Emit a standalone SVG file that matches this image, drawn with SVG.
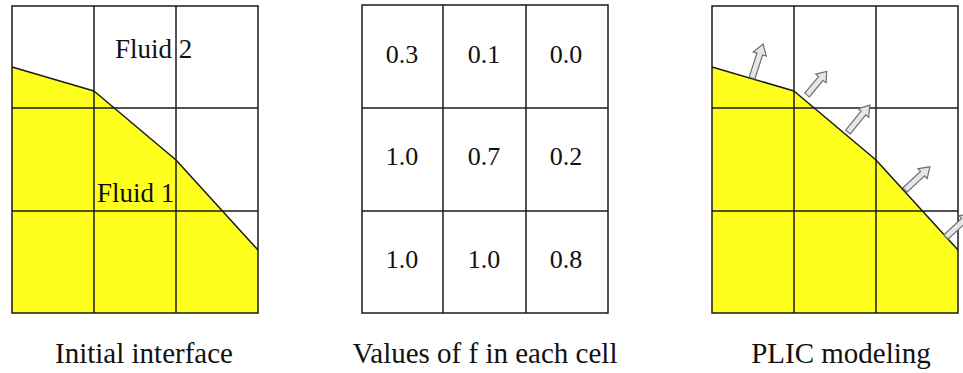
<svg xmlns="http://www.w3.org/2000/svg" width="963" height="373" viewBox="0 0 963 373">
<defs>
<style>
.grid{fill:none;stroke:#1a1a1a;stroke-width:1.5}
.fill{fill:#ffff1e;stroke:none}
.iface{fill:none;stroke:#1a1a1a;stroke-width:1.5;stroke-linejoin:round}
.t{fill:#111}
.num{font-size:26px;text-anchor:middle}
.fl{font-size:27px}
.cap{font-size:29px;text-anchor:middle}
.arr{fill:#e6e6e6;stroke:#6e6e6e;stroke-width:1.2;stroke-linejoin:miter}
</style>
<path id="a" d="M0,-3 L24,-3 L24,-6.8 L34,0 L24,6.8 L24,3 L0,3 Z"/>
</defs>
<rect width="963" height="373" fill="#fff"/>

<g id="panel-initial">
<polygon class="fill" points="12,67 94,91 176,160 258,250 258,313 12,313"/>
<polyline class="iface" points="12,67 94,91 176,160 258,250"/>
<rect class="grid" x="12" y="6" width="246" height="307"/>
<line class="grid" x1="94" y1="6" x2="94" y2="313"/>
<line class="grid" x1="176" y1="6" x2="176" y2="313"/>
<line class="grid" x1="12" y1="108" x2="258" y2="108"/>
<line class="grid" x1="12" y1="211" x2="258" y2="211"/>
<text class="t fl" font-family="Liberation Serif, DejaVu Serif, serif" x="115" y="58">Fluid 2</text>
<text class="t fl" font-family="Liberation Serif, DejaVu Serif, serif" x="97" y="202">Fluid 1</text>
</g>

<g id="panel-values" font-family="Liberation Serif, DejaVu Serif, serif">
<rect class="grid" x="362" y="5" width="246" height="308"/>
<line class="grid" x1="443" y1="5" x2="443" y2="313"/>
<line class="grid" x1="526" y1="5" x2="526" y2="313"/>
<line class="grid" x1="362" y1="108" x2="608" y2="108"/>
<line class="grid" x1="362" y1="211" x2="608" y2="211"/>
<text class="t num" x="402" y="63">0.3</text>
<text class="t num" x="484" y="63">0.1</text>
<text class="t num" x="566" y="63">0.0</text>
<text class="t num" x="402" y="165">1.0</text>
<text class="t num" x="484" y="165">0.7</text>
<text class="t num" x="566" y="165">0.2</text>
<text class="t num" x="402" y="268">1.0</text>
<text class="t num" x="484" y="268">1.0</text>
<text class="t num" x="566" y="268">0.8</text>
</g>

<g id="panel-plic">
<polygon class="fill" points="712,67 794,91 876,160 958,250 958,313 712,313"/>
<polyline class="iface" points="712,67 794,91 876,160 958,250"/>
<rect class="grid" x="712" y="6" width="246" height="307"/>
<line class="grid" x1="794" y1="6" x2="794" y2="313"/>
<line class="grid" x1="876" y1="6" x2="876" y2="313"/>
<line class="grid" x1="712" y1="108" x2="958" y2="108"/>
<line class="grid" x1="712" y1="211" x2="958" y2="211"/>
</g>

<g id="normals">
<use href="#a" class="arr" transform="translate(752,78) rotate(-72) scale(1.05,1)"/>
<use href="#a" class="arr" transform="translate(807,95) rotate(-50) scale(0.9,1)"/>
<use href="#a" class="arr" transform="translate(848,132) rotate(-51) scale(1.02,1)"/>
<use href="#a" class="arr" transform="translate(905,190) rotate(-43) scale(1,1)"/>
<use href="#a" class="arr" transform="translate(946,237) rotate(-43) scale(1,1)"/>
</g>

<g id="captions" font-family="Liberation Serif, DejaVu Serif, serif">
<text class="t cap" x="144" y="363">Initial interface</text>
<text class="t cap" x="485" y="363">Values of f in each cell</text>
<text class="t cap" x="841" y="363">PLIC modeling</text>
</g>
</svg>
